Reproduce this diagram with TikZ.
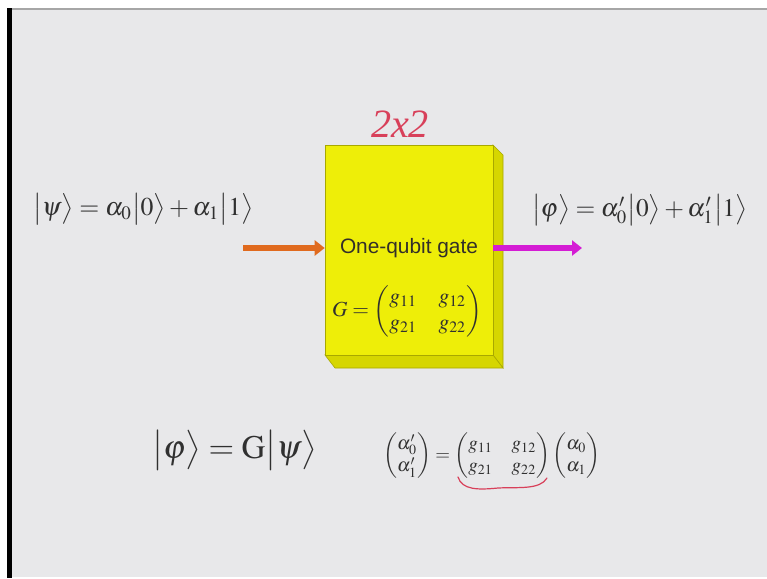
\documentclass[tikz,border=0pt]{standalone}
\usepackage{amsmath}
\usepackage{mathptmx}
\usepackage{fontspec}
\setmainfont{Liberation Serif}
\setsansfont{Liberation Sans}
\usetikzlibrary{arrows.meta}
\definecolor{bg}{HTML}{E8E8EA}
\definecolor{frontY}{HTML}{EEEE08}
\definecolor{sideY}{HTML}{D6D600}
\definecolor{edgeY}{HTML}{A8A800}
\definecolor{inArrow}{HTML}{E06A1E}
\definecolor{outArrow}{HTML}{D41CD4}
\definecolor{pen}{HTML}{D8405A}
\definecolor{ink}{HTML}{303030}
\newcommand{\kt}[1]{\bigl|#1\bigr\rangle}
\tikzset{
  fatarrow/.style={line width=6pt,-{Triangle[length=10pt,width=15pt]}},
  formula/.style={inner sep=0pt,text=ink},
  handpen/.style={draw=pen,line width=1.2pt,line cap=round},
}
\begin{document}
\begin{tikzpicture}[x=1pt,y=-1pt]
\useasboundingbox (0,0) rectangle (767,578);
\fill[white] (0,0) rectangle (767,578);
\fill[bg] (12,10) rectangle (767,577);
\draw[gray!70,line width=1.5pt] (12,9) -- (767,9);
\fill[black] (7,8) rectangle (12,578);

% gate box (cube-like)
\fill[sideY,draw=edgeY,line width=0.6pt] (493,145) -- (503,155) -- (503,368) -- (493,355) -- cycle;
\fill[sideY,draw=edgeY,line width=0.6pt] (325,355) -- (493,355) -- (503,368) -- (335,368) -- cycle;
\node[fill=frontY,draw=edgeY,line width=0.6pt,minimum width=168pt,minimum height=210pt,inner sep=0pt] (gate) at (409,250) {};

\node[formula,text=black!85!olive] (label) at (409,248) {\resizebox{138pt}{!}{\sffamily One-qubit gate}};
\node[formula] (gmat) at (407,311) {\resizebox{150pt}{!}{$G=\begin{pmatrix} g_{11} & g_{12}\\ g_{21} & g_{22}\end{pmatrix}$}};

% arrows
\coordinate (ain) at (243,248);
\coordinate (aout) at (582,248);
\draw[fatarrow,inArrow] (ain) -- (ain -| gate.west);
\draw[fatarrow,outArrow] (aout -| gate.east) -- (aout);

% states
\node[formula,anchor=west] (psi) at (33,209) {\resizebox{220pt}{!}{$\kt{\psi}=\alpha_0\kt{0}+\alpha_1\kt{1}$}};
\node[formula,anchor=west] (phi) at (532,210) {\resizebox{215pt}{!}{$\kt{\varphi}=\alpha'_0\kt{0}+\alpha'_1\kt{1}$}};

% bottom equations
\node[formula,anchor=west] (eq) at (152,450) {\resizebox{165pt}{!}{$\kt{\varphi}=\mathrm{G}\kt{\psi}$}};
\node[formula,anchor=west] (meq) at (383,456) {\resizebox{217pt}{!}{$\begin{pmatrix}\alpha'_0\\ \alpha'_1\end{pmatrix}=\begin{pmatrix} g_{11} & g_{12}\\ g_{21} & g_{22}\end{pmatrix}\begin{pmatrix}\alpha_0\\ \alpha_1\end{pmatrix}$}};

% handwritten annotations
\node[formula,text=pen] (dim) at (400,124) {\resizebox{58pt}{!}{\itshape 2x2}};
\draw[handpen] (458,477) .. controls (462,490) and (478,490) .. (498,488) .. controls (518,487) and (540,490) .. (547,478);
\end{tikzpicture}
\end{document}
